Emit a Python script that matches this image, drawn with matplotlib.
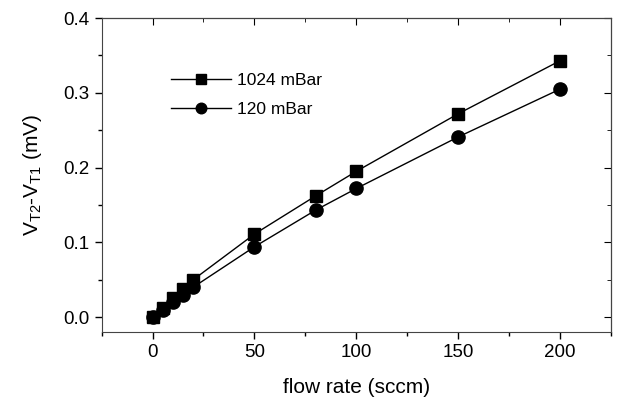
import numpy as np
import matplotlib
matplotlib.use("Agg")
import matplotlib.pyplot as plt
from matplotlib.ticker import MultipleLocator

plt.rcParams['font.family'] = ['Liberation Sans', 'DejaVu Sans']
plt.rcParams['mathtext.fontset'] = 'custom'
plt.rcParams['mathtext.rm'] = 'Liberation Sans'
plt.rcParams['mathtext.it'] = 'Liberation Sans'

flow = [0, 5, 10, 15, 20, 50, 80, 100, 150, 200]
v_1024 = [0.0, 0.012, 0.025, 0.038, 0.050, 0.111, 0.162, 0.195, 0.272, 0.343]
v_120 = [0.0, 0.010, 0.020, 0.030, 0.040, 0.094, 0.143, 0.172, 0.241, 0.305]
labels = ["1024 mBar", "120 mBar"]

fig = plt.figure(figsize=(6.23, 4.01), dpi=100)
ax = fig.add_axes([0.163, 0.172, 0.818, 0.783])

ax.plot(flow, v_1024, color='black', lw=1, marker='s', ms=9, label=labels[0])
ax.plot(flow, v_120, color='black', lw=1, marker='o', ms=9.5, label=labels[1])

ax.set_xlim(-25, 225)
ax.set_ylim(-0.02, 0.4)
ax.xaxis.set_major_locator(MultipleLocator(50))
ax.xaxis.set_minor_locator(MultipleLocator(25))
ax.yaxis.set_major_locator(MultipleLocator(0.1))
ax.yaxis.set_minor_locator(MultipleLocator(0.05))
ax.yaxis.set_major_formatter(plt.FormatStrFormatter('%.1f'))

ax.tick_params(which='both', direction='out', labelsize=13.5, width=1)
ax.tick_params(which='major', length=5)
ax.tick_params(which='minor', length=3)

# mirrored ticks on top/right pointing inward
sx = ax.secondary_xaxis('top')
sx.xaxis.set_major_locator(MultipleLocator(50))
sx.xaxis.set_minor_locator(MultipleLocator(25))
sx.tick_params(which='both', direction='in', labeltop=False)
sx.tick_params(which='major', length=5)
sx.tick_params(which='minor', length=3)
sy = ax.secondary_yaxis('right')
sy.yaxis.set_major_locator(MultipleLocator(0.1))
sy.yaxis.set_minor_locator(MultipleLocator(0.05))
sy.tick_params(which='both', direction='in', labelright=False)
sy.tick_params(which='major', length=5)
sy.tick_params(which='minor', length=3)

for s in ax.spines.values():
    s.set_color('#444444')

ax.set_xlabel('flow rate (sccm)', fontsize=15, labelpad=12)
ax.set_ylabel('V$_{\\mathrm{T2}}$-V$_{\\mathrm{T1}}$ (mV)', fontsize=15, labelpad=14)

ax.legend(loc='upper left', bbox_to_anchor=(0.105, 0.875), frameon=False, fontsize=12.5,
          handlelength=3.5, handletextpad=0.3, labelspacing=0.8, markerscale=0.8)

fig.savefig('out.png', dpi=100)
